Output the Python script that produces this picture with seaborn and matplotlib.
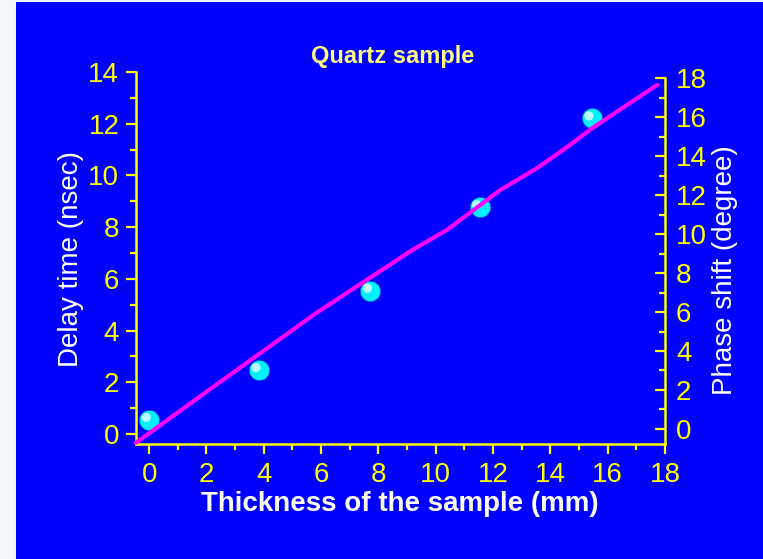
import numpy as np
import pandas as pd
import matplotlib
matplotlib.use("Agg")
import matplotlib.pyplot as plt
import seaborn as sns
from matplotlib.patches import Rectangle
from matplotlib.transforms import offset_copy
from matplotlib.ticker import MultipleLocator

# ---- data ----
thickness_mm = [0.0, 3.83, 7.72, 11.53, 15.45]
delay_ns = [0.54, 2.47, 5.54, 8.77, 12.21]
fit_x = [-0.46, 1.96, 5.82, 9.19, 10.39, 12.26, 13.52, 14.60, 15.45, 16.41, 17.73]
fit_y = [-0.34, 1.60, 4.67, 7.12, 7.89, 9.44, 10.27, 11.11, 11.82, 12.53, 13.50]
x_ticks = list(range(0, 19, 2))
left_ticks = list(range(0, 15, 2))
right_ticks = list(range(0, 19, 2))

title = "Quartz sample"
xlabel = "Thickness of the sample (mm)"
ylabel_left = "Delay time (nsec)"
ylabel_right = "Phase shift (degree)"

sns.set_theme(style="white")
plt.rcParams['font.family'] = ['Liberation Sans', 'DejaVu Sans']

BLUE = '#0000FF'
YEL = '#FFFF00'
W, H = 763, 559

fig = plt.figure(figsize=(W / 100, H / 100), dpi=100)
fig.patch.set_facecolor('#f2f5fa')
fig.add_artist(Rectangle((16 / W, 0), 1, 557 / H, transform=fig.transFigure,
                         facecolor=BLUE, edgecolor='none', zorder=0))

ax = fig.add_axes([136 / W, 115 / H, 529 / W, 372 / H])
ax.set_facecolor('none')

df_pts = pd.DataFrame({'x': thickness_mm, 'y': delay_ns})
df_fit = pd.DataFrame({'x': fit_x, 'y': fit_y})

# spheres
sns.scatterplot(data=df_pts, x='x', y='y', ax=ax, s=215, color='#00F0FF',
                edgecolor='#0050C0', linewidth=0.6, zorder=3, legend=False)
sns.scatterplot(data=df_pts, x='x', y='y', ax=ax, s=45, color='#B8FFFF',
                edgecolor='none', zorder=4, legend=False,
                transform=offset_copy(ax.transData, fig=fig, x=-3, y=2.5, units='dots'))
# fit line
sns.lineplot(data=df_fit, x='x', y='y', ax=ax, color='#FF00FF', lw=3.0,
             sort=False, estimator=None, zorder=5, clip_on=False)

ax.set_xlim(-0.46, 18)
ax.set_ylim(-0.39, 14)
ax.set_xticks(x_ticks)
ax.set_yticks(left_ticks)
ax.xaxis.set_minor_locator(MultipleLocator(1))
ax.yaxis.set_minor_locator(MultipleLocator(1))
ax.set_xlabel('')
ax.set_ylabel('')

for s in ['top', 'right']:
    ax.spines[s].set_visible(False)
for s in ['left', 'bottom']:
    ax.spines[s].set_color(YEL)
    ax.spines[s].set_linewidth(1.8)

ax.tick_params(axis='both', which='major', direction='out', length=7, width=1.6,
               colors=YEL, labelsize=20, pad=5)
ax.tick_params(axis='x', which='major', pad=6)
ax.tick_params(axis='both', which='minor', direction='out', length=4, width=1.6,
               colors=YEL)
ax.tick_params(axis='both', which='both', bottom=True, left=True)

ax2 = ax.twinx()
ax2.set_ylim(-0.77, 18.31)
ax2.set_yticks(right_ticks)
ax2.yaxis.set_minor_locator(MultipleLocator(1))
for s in ['top', 'left', 'bottom']:
    ax2.spines[s].set_visible(False)
ax2.spines['right'].set_color(YEL)
ax2.spines['right'].set_linewidth(1.8)
ax2.spines['right'].set_bounds(-0.77, 18)
ax2.tick_params(axis='y', which='major', direction='in', length=7, width=1.6,
                colors=YEL, labelsize=20, pad=8, right=True)
ax2.tick_params(axis='y', which='minor', direction='in', length=4, width=1.6,
                colors=YEL, right=True)
ax2.grid(False)
ax.grid(False)

fig.text(393 / W, 1 - 56 / H, title, ha='center', va='center',
         color='#FFFF80', fontweight='bold', fontsize=17)
fig.text(400 / W, 1 - 504 / H, xlabel, ha='center', va='center',
         color='white', fontweight='bold', fontsize=20)
fig.text(71 / W, 1 - 259 / H, ylabel_left, ha='center', va='center',
         rotation=90, color='white', fontsize=20)
fig.text(725 / W, 1 - 270 / H, ylabel_right, ha='center', va='center',
         rotation=90, color='white', fontsize=20)

fig.savefig('out.png', dpi=100, facecolor=fig.get_facecolor())
